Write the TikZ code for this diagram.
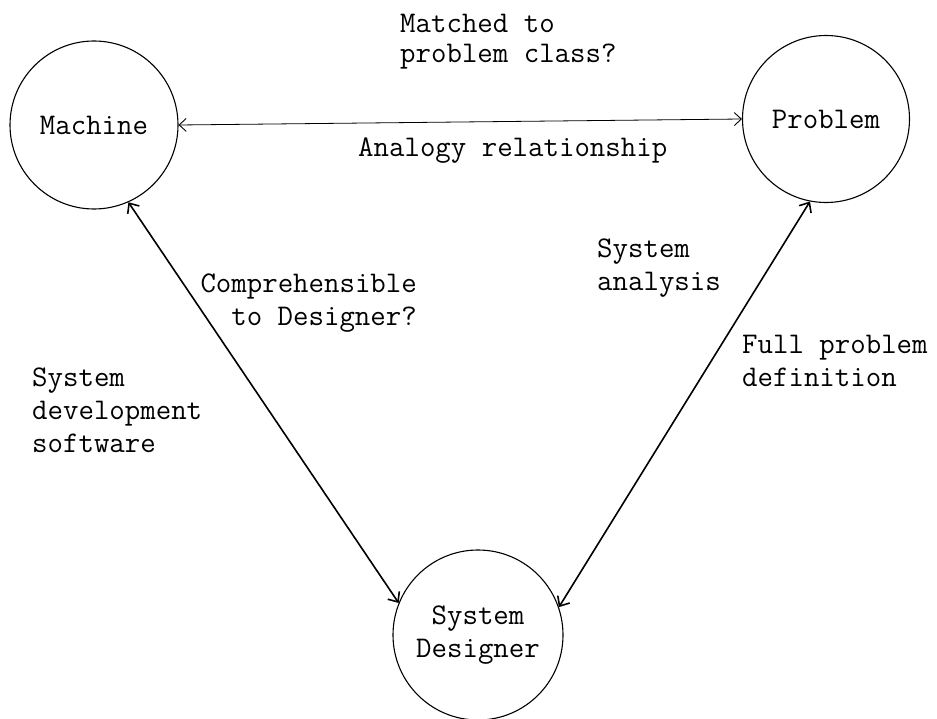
\documentclass[tikz,border=0pt]{standalone}
\usepackage{fontspec}
\usetikzlibrary{arrows.meta}
\tikzset{
  state/.style={circle,draw,line width=1.1pt,inner sep=0pt,minimum size=#1,align=center,font=\fontsize{30}{33}\selectfont\ttfamily},
  lbl/.style={inner sep=0pt,font=\fontsize{30}{33}\selectfont\ttfamily},
  thinlink/.style={line width=0.8pt,{Straight Barb[length=7pt,width=13pt,line width=0.9pt]}-{Straight Barb[length=7pt,width=13pt,line width=0.9pt]}},
  thicklink/.style={line width=1.6pt,{Straight Barb[length=8pt,width=14pt,line width=1.6pt]}-{Straight Barb[length=8pt,width=14pt,line width=1.6pt]}}
}
\begin{document}
\begin{tikzpicture}[x=1pt,y=-1pt]
\useasboundingbox (0,0) rectangle (937,719);
\node[state=168pt] (M) at (94,125) {Machine};
\node[state=167pt] (P) at (826,119) {Problem};
\node[state=170pt] (D) at (478,635) {System\\Designer};

\draw[thinlink] (M.east) -- (P.west);
\draw[thicklink] (M.-66) -- (D.158);
\draw[thicklink] (P.-101) -- (D.19);

\node[lbl,anchor=north west,align=left,font=\fontsize{30}{30}\selectfont\ttfamily] (t1) at (400,14) {Matched to\\problem class?};
\node[lbl,anchor=base west] (t2) at (358,157) {Analogy relationship};
\node[lbl,anchor=north east,align=right] (t3) at (417,274) {Comprehensible\\to Designer?};
\node[lbl,anchor=north west,align=left] (t4) at (597,239) {System\\analysis};
\node[lbl,anchor=north west,align=left] (t5) at (742,335) {Full problem\\definition};
\node[lbl,anchor=north west,align=left] (t6) at (32,368) {System\\development\\software};
\end{tikzpicture}
\end{document}
